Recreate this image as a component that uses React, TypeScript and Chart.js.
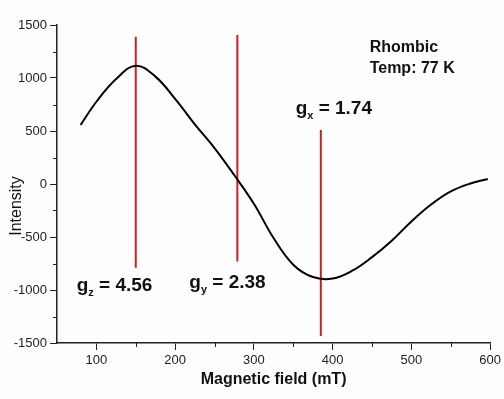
import React, { useEffect, useRef } from "react";
import { Chart, registerables } from "chart.js";

Chart.register(...registerables);

// Spectrum (Magnetic field in mT, intensity)
const fieldValues = [80, 100, 125, 150, 175, 200, 225, 250, 275, 300, 325, 350, 375, 400, 425, 450, 475, 500, 525, 550, 575, 597];
const intensityValues = [557, 776, 990, 1116, 1013, 803, 563, 339, 85, -186, -510, -761, -878, -892, -818, -690, -535, -353, -194, -70, 5, 47];

// g-value markers: field position, top and bottom of the line
const markerFields = [150, 279, 385];
const markerTops = [1390, 1405, 510];
const markerBottoms = [-790, -730, -1435];
const markerNames = ["z", "y", "x"];
const markerValues = ["4.56", "2.38", "1.74"];
const markerLabelX = [75, 218, 353];
const markerLabelY = [-1010, -980, 660];

const infoLines = ["Rhombic", "Temp: 77 K"];
const infoX = 447;
const infoY = [1245, 1047];

const xTicks = [100, 200, 300, 400, 500, 600];
const yTicks = [-1500, -1000, -500, 0, 500, 1000, 1500];
const xMinor = [150, 250, 350, 450, 550];
const yMinor = [-1250, -750, -250, 250, 750, 1250];

const xTitle = "Magnetic field (mT)";
const yTitle = "Intensity";

const FONT = "Arial, 'Liberation Sans', sans-serif";

export default function App() {
  const ref = useRef<HTMLCanvasElement>(null);
  useEffect(() => {
    const canvas = ref.current!;
    const bgPlugin = {
      id: "bg",
      beforeDraw(chart: any) {
        const c = chart.ctx;
        c.save();
        c.fillStyle = "#fdfdfd";
        c.fillRect(0, 0, chart.width, chart.height);
        c.restore();
      },
    };
    const extraPlugin = {
      id: "extra",
      afterDraw(chart: any) {
        const c = chart.ctx;
        const xs = chart.scales.x;
        const ys = chart.scales.y;
        const area = chart.chartArea;
        c.save();
        // minor ticks
        c.strokeStyle = "#222";
        c.lineWidth = 1;
        c.beginPath();
        xMinor.forEach((v) => {
          const px = Math.round(xs.getPixelForValue(v)) + 0.5;
          c.moveTo(px, area.bottom);
          c.lineTo(px, area.bottom + 4);
        });
        yMinor.forEach((v) => {
          const py = Math.round(ys.getPixelForValue(v)) + 0.5;
          c.moveTo(area.left, py);
          c.lineTo(area.left - 4, py);
        });
        c.stroke();
        // g labels
        c.fillStyle = "#111";
        c.textBaseline = "alphabetic";
        c.textAlign = "left";
        markerNames.forEach((n, i) => {
          let px = xs.getPixelForValue(markerLabelX[i]);
          const py = ys.getPixelForValue(markerLabelY[i]);
          c.font = `bold 19px ${FONT}`;
          c.fillText("g", px, py);
          px += c.measureText("g").width;
          c.font = `bold 11px ${FONT}`;
          c.fillText(n, px, py + 5);
          px += c.measureText(n).width;
          c.font = `bold 19px ${FONT}`;
          c.fillText(" = " + markerValues[i], px, py);
        });
        // info text
        c.font = `bold 16px ${FONT}`;
        infoLines.forEach((t, i) => {
          c.fillText(t, xs.getPixelForValue(infoX), ys.getPixelForValue(infoY[i]));
        });
        // axis titles
        c.font = `bold 16px ${FONT}`;
        c.textAlign = "center";
        c.fillText(xTitle, (area.left + area.right) / 2, 384);
        c.save();
        c.translate(17, 206);
        c.rotate(-Math.PI / 2);
        c.font = `16px ${FONT}`;
        c.textBaseline = "middle";
        c.fillText(yTitle, 0, 0);
        c.restore();
        c.restore();
      },
    };
    const markerSets = markerFields.map((f, i) => ({
      data: [
        { x: f, y: markerTops[i] },
        { x: f, y: markerBottoms[i] },
      ],
      borderColor: "#cc2020",
      borderWidth: 2,
      pointRadius: 0,
    }));
    const chart = new Chart(canvas, {
      type: "line",
      data: {
        datasets: [
          {
            data: fieldValues.map((x, i) => ({ x, y: intensityValues[i] })),
            borderColor: "#000",
            borderWidth: 2,
            pointRadius: 0,
            tension: 0.4,
          },
          ...markerSets,
        ],
      },
      options: {
        animation: false,
        responsive: false,
        maintainAspectRatio: false,
        layout: { padding: { top: 25, right: 13, left: 0, bottom: 0 } },
        plugins: { legend: { display: false }, tooltip: { enabled: false } },
        scales: {
          x: {
            type: "linear",
            min: 50,
            max: 600,
            afterBuildTicks: (s: any) => {
              s.ticks = xTicks.map((v) => ({ value: v }));
            },
            afterFit: (s: any) => {
              s.height = 56;
            },
            grid: { drawOnChartArea: false, tickLength: 7, color: "#222" },
            border: { display: true, color: "#222", width: 1.5 },
            ticks: {
              color: "#222",
              font: { family: FONT, size: 13 },
              padding: 3,
              maxRotation: 0,
              callback: (v: any) => String(v),
            },
          },
          y: {
            type: "linear",
            min: -1500,
            max: 1500,
            afterBuildTicks: (s: any) => {
              s.ticks = yTicks.map((v) => ({ value: v }));
            },
            afterFit: (s: any) => {
              s.width = 57;
            },
            grid: { drawOnChartArea: false, tickLength: 7, color: "#222" },
            border: { display: true, color: "#222", width: 1.5 },
            ticks: {
              color: "#222",
              font: { family: FONT, size: 13 },
              padding: 3,
              callback: (v: any) => String(v),
            },
          },
        },
      },
      plugins: [bgPlugin, extraPlugin],
    } as any);
    return () => chart.destroy();
  }, []);
  return (
    <div style={{ position: "fixed", left: 0, top: 0, width: 504, height: 399 }}>
      <canvas ref={ref} width={504} height={399} style={{ width: 504, height: 399 }} />
    </div>
  );
}
